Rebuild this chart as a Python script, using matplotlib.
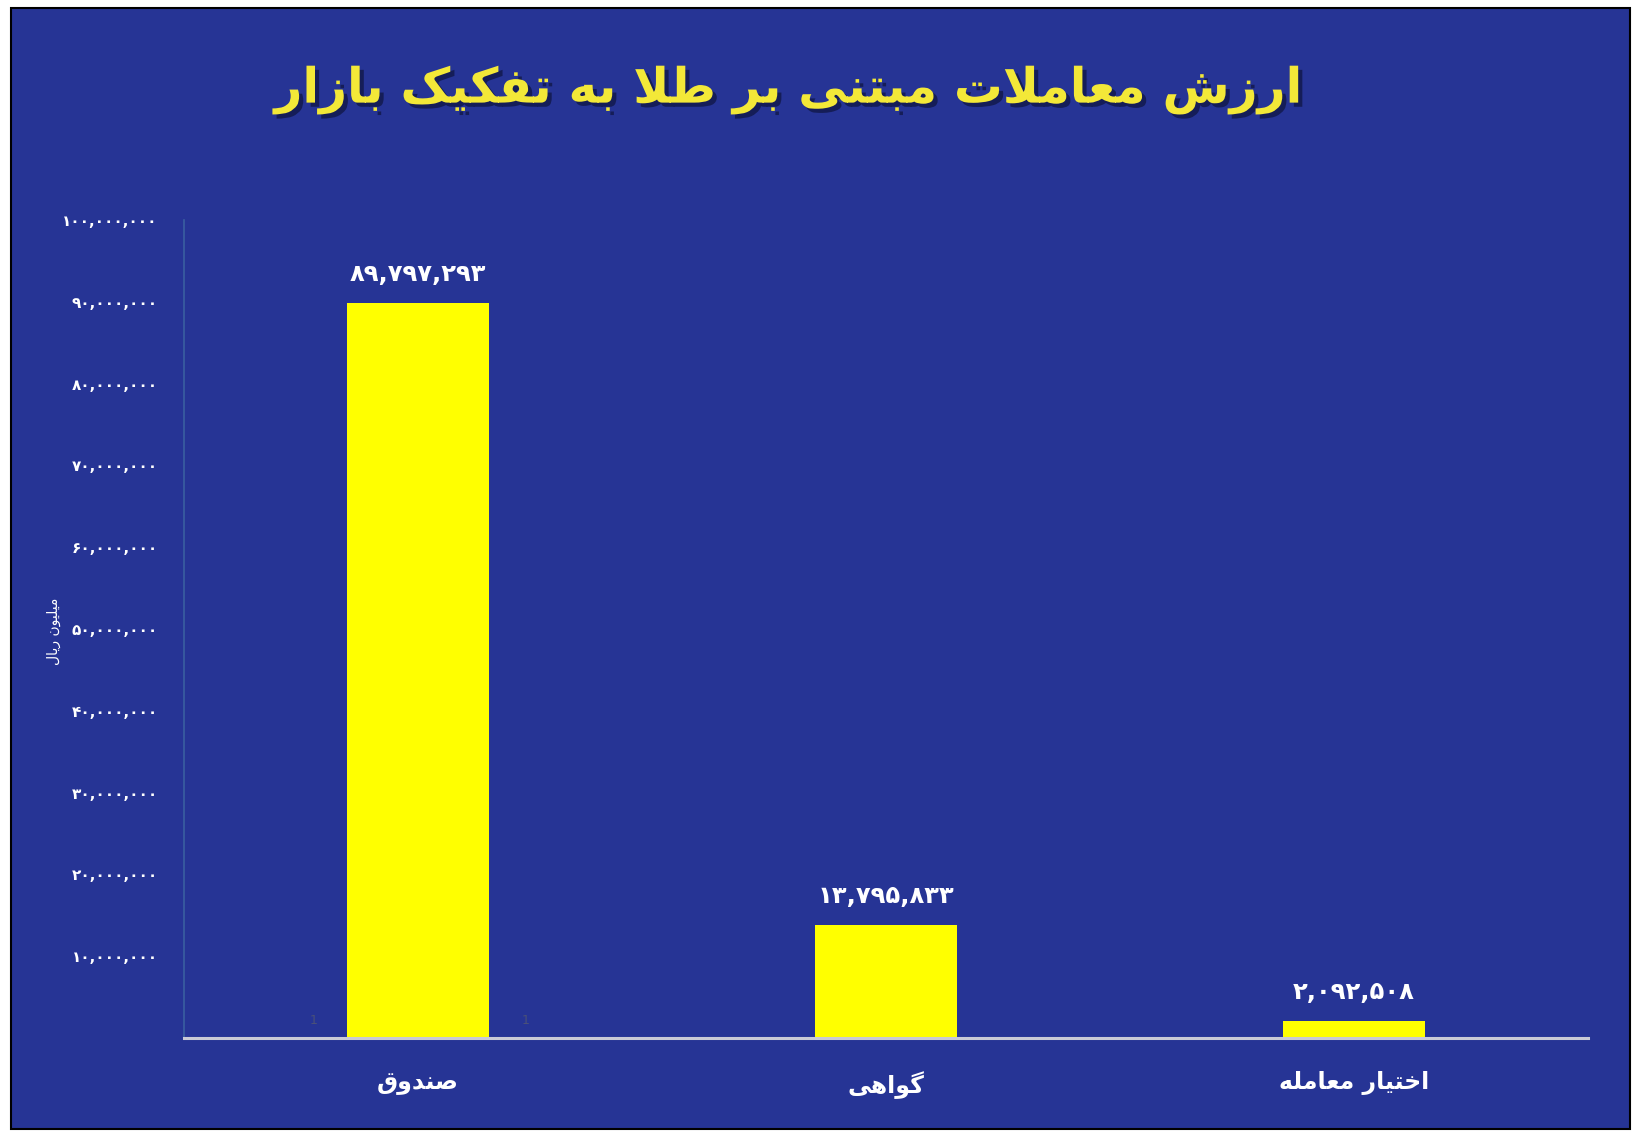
"""
Gold-based trading value by market, bar chart with Persian labels.

matplotlib does no Arabic-script shaping, so a tiny shaper below maps letters
to their presentation forms and reverses them for right-to-left display.
"""

import matplotlib

matplotlib.use("Agg")
import matplotlib.pyplot as plt
import matplotlib.patheffects as pe
from matplotlib.patches import Rectangle
from matplotlib.ticker import FixedLocator, FuncFormatter


TITLE = "ارزش معاملات مبتنی بر طلا به تفکیک بازار"
Y_LABEL = "میلیون ریال"
CATEGORIES = ["صندوق", "گواهی", "اختیار معامله"]
VALUES = [89797293, 13795833, 2092508]
Y_TICKS = [10_000_000 * k for k in range(1, 11)]

BG_BLUE = "#263495"
BAR_YELLOW = "#FFFF00"
TITLE_YELLOW = "#F3E838"

# isolated, final, initial, medial (None for letters that never join forward)
FORMS = {
    "ا": ("\uFE8D", "\uFE8E", None, None),
    "ب": ("\uFE8F", "\uFE90", "\uFE91", "\uFE92"),
    "ت": ("\uFE95", "\uFE96", "\uFE97", "\uFE98"),
    "خ": ("\uFEA5", "\uFEA6", "\uFEA7", "\uFEA8"),
    "د": ("\uFEA9", "\uFEAA", None, None),
    "ر": ("\uFEAD", "\uFEAE", None, None),
    "ز": ("\uFEAF", "\uFEB0", None, None),
    "ش": ("\uFEB5", "\uFEB6", "\uFEB7", "\uFEB8"),
    "ص": ("\uFEB9", "\uFEBA", "\uFEBB", "\uFEBC"),
    "ط": ("\uFEC1", "\uFEC2", "\uFEC3", "\uFEC4"),
    "ع": ("\uFEC9", "\uFECA", "\uFECB", "\uFECC"),
    "ف": ("\uFED1", "\uFED2", "\uFED3", "\uFED4"),
    "ق": ("\uFED5", "\uFED6", "\uFED7", "\uFED8"),
    "ل": ("\uFEDD", "\uFEDE", "\uFEDF", "\uFEE0"),
    "م": ("\uFEE1", "\uFEE2", "\uFEE3", "\uFEE4"),
    "ن": ("\uFEE5", "\uFEE6", "\uFEE7", "\uFEE8"),
    "ه": ("\uFEE9", "\uFEEA", "\uFEEB", "\uFEEC"),
    "و": ("\uFEED", "\uFEEE", None, None),
    "ک": ("\uFB8E", "\uFB8F", "\uFB90", "\uFB91"),
    "گ": ("\uFB92", "\uFB93", "\uFB94", "\uFB95"),
    "ی": ("\uFBFC", "\uFBFD", "\uFBFE", "\uFBFF"),
}
PERSIAN_DIGITS = str.maketrans("0123456789", "۰۱۲۳۴۵۶۷۸۹")


def _dual(ch: str | None) -> bool:
    return ch in FORMS and FORMS[ch][2] is not None


def rtl(text: str) -> str:
    out = []
    n = len(text)
    for i, ch in enumerate(text):
        if ch not in FORMS:
            out.append(ch)
            continue
        prev = text[i - 1] if i > 0 else None
        nxt = text[i + 1] if i + 1 < n else None
        if ch == "ا" and prev == "ل":
            continue  # already emitted as lam-alef ligature
        join_prev = _dual(prev)
        if ch == "ل" and nxt == "ا":
            out.append("\uFEFC" if join_prev else "\uFEFB")
            continue
        join_next = _dual(ch) and nxt in FORMS
        iso, fin, ini, med = FORMS[ch]
        if join_prev and join_next:
            out.append(med)
        elif join_prev:
            out.append(fin)
        elif join_next:
            out.append(ini)
        else:
            out.append(iso)
    return "".join(reversed(out))


def fa_num(v: float) -> str:
    return f"{int(v):,}".translate(PERSIAN_DIGITS)


W, H = 1642, 1137
fig = plt.figure(figsize=(W / 100, H / 100), dpi=100)
fig.patch.set_facecolor("white")

# blue panel with thin black frame, kept behind the axes
fig.patches.append(
    Rectangle(
        (11 / W, 1 - 1129 / H),
        (1630 - 11) / W,
        (1129 - 8) / H,
        transform=fig.transFigure,
        facecolor=BG_BLUE,
        edgecolor="black",
        linewidth=1.5,
        zorder=-5,
    )
)

ax = fig.add_axes([184 / W, 1 - 1038 / H, (1588 - 184) / W, (1038 - 220) / H])
ax.set_facecolor("none")
ax.set_zorder(2)

x = list(range(len(CATEGORIES)))
ax.bar(x, VALUES, width=0.305, color=BAR_YELLOW, zorder=2)

for xi, v in zip(x, VALUES):
    ax.annotate(
        fa_num(v),
        (xi, v),
        xytext=(0, 21),
        textcoords="offset points",
        ha="center",
        va="center",
        fontsize=17.5,
        fontweight="bold",
        color="white",
    )

ax.set_xlim(-0.5, len(CATEGORIES) - 0.5)
ax.set_ylim(0, 100_000_000)
ax.yaxis.set_major_locator(FixedLocator(Y_TICKS))
ax.yaxis.set_major_formatter(FuncFormatter(lambda v, _: fa_num(v)))
ax.tick_params(axis="y", length=0, pad=19, labelsize=11, labelcolor="white")
for lab in ax.get_yticklabels():
    lab.set_fontweight("bold")

ax.set_xticks(x)
ax.set_xticklabels([rtl(c) for c in CATEGORIES], fontsize=17, fontweight="bold", color="white")
ax.tick_params(axis="x", length=0, pad=24)

for side in ("top", "right"):
    ax.spines[side].set_visible(False)
ax.spines["left"].set_color("#3a5fa0")
ax.spines["left"].set_linewidth(1.2)
ax.spines["bottom"].set_color("#c9cad6")
ax.spines["bottom"].set_linewidth(2.2)

# faint stray marks beside the first bar in the source image
for dx in (-0.224, 0.23):
    ax.text(dx, 2_200_000, "1", ha="center", va="center", fontsize=9, color="#4a5078", zorder=1)

fig.text(
    54 / W,
    1 - 631 / H,
    rtl(Y_LABEL),
    rotation=90,
    ha="center",
    va="center",
    fontsize=10,
    color="white",
)

fig.text(
    788 / W,
    1 - 90 / H,
    rtl(TITLE),
    ha="center",
    va="center",
    fontsize=35,
    fontweight="bold",
    color=TITLE_YELLOW,
    path_effects=[
        pe.SimplePatchShadow(offset=(3, -3), shadow_rgbFace="#0a0f30", alpha=0.6),
        pe.Normal(),
    ],
)

fig.savefig("out.png", dpi=100, facecolor=fig.get_facecolor())
